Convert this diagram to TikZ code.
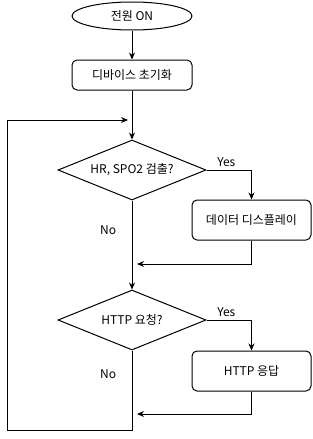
\documentclass[tikz,border=0pt]{standalone}
\usepackage{fontspec}
\setmainfont{Noto Sans CJK KR}
\usetikzlibrary{arrows.meta,shapes.geometric}

\begin{document}
\begin{tikzpicture}[
  x=1pt, y=-1pt,
  >={Stealth[length=7pt,width=6pt]},
  start/.style={ellipse, draw, line width=1pt, minimum width=120pt, minimum height=28pt, inner sep=0pt},
  proc/.style={rectangle, rounded corners=5pt, draw, line width=1pt, minimum width=120pt, minimum height=30pt, inner sep=0pt},
  decision/.style={diamond, draw, line width=1pt, aspect=2.47, minimum width=148pt, minimum height=60pt, inner sep=0pt},
  flow/.style={->, line width=1pt},
  every node/.style={font=\fontsize{12}{14}\selectfont}
]
  \useasboundingbox (0,0) rectangle (313,439);

  \node[start] (pwr) at (132,16) {전원 ON};
  \node[proc] (init) at (132,75) {디바이스 초기화};
  \node[decision] (hr) at (132,170) {HR, SPO2 검출?};
  \node[proc, minimum width=119pt, minimum height=40pt] (disp) at (251.5,220) {데이터 디스플레이};
  \node[decision] (http) at (132,320) {HTTP 요청?};
  \node[proc, minimum width=119pt, minimum height=40pt] (resp) at (251.5,371) {HTTP 응답};

  % merge points and loop corners
  \coordinate (mrgA) at (137,264);
  \coordinate (mrgB) at (137,414);
  \coordinate (loopA) at (132,430);
  \coordinate (loopB) at (7,430);
  \coordinate (loopC) at (7,120);
  \coordinate (loopD) at (128,120);

  \draw[flow] (pwr) -- (init);
  \draw[flow] (init) -- (hr);
  \draw[flow] (hr.east) -| node[pos=0.22, above] {Yes} (disp.north);
  \draw[flow] (disp.south) |- (mrgA);
  \draw[flow] (hr.south) -- node[pos=0.33, left=12pt] {No} (http.north);
  \draw[flow] (http.east) -| node[pos=0.22, above] {Yes} (resp.north);
  \draw[flow] (resp.south) |- (mrgB);
  \draw[line width=1pt] (http.south) -- node[pos=0.3, left=12pt] {No} (loopA) -- (loopB) -- (loopC);
  \draw[flow] (loopC) -- (loopD);
\end{tikzpicture}
\end{document}
